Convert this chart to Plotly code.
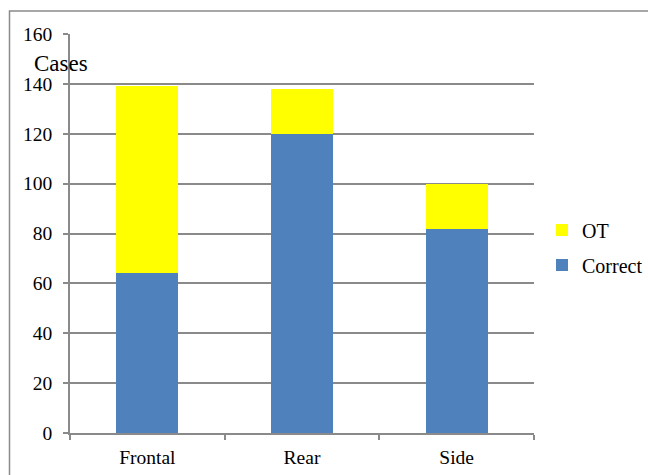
import plotly.graph_objects as go

categories = ["Frontal", "Rear", "Side"]
correct = [64, 120, 82]
ot = [75, 18, 18]

BLUE = "#4F81BD"
YELLOW = "#FFFF00"
GRAY = "#8a8a8a"
FONT = "Liberation Serif"

fig = go.Figure()
fig.add_trace(go.Bar(x=categories, y=correct, name="Correct", marker=dict(color=BLUE, line=dict(width=0)),
                     legendgroup="c", legendrank=2))
fig.add_trace(go.Bar(x=categories, y=ot, name="OT", marker=dict(color=YELLOW, line=dict(width=0)),
                     legendgroup="o", legendrank=1))

W, H = 648, 475
L, R, T, B = 70, 114, 34, 42
pw, ph = W - L - R, H - T - B

def px_x(p):
    return (p - L) / pw

def px_y(p):
    return (H - B - p) / ph

fig.update_layout(
    width=W, height=H,
    margin=dict(l=L, r=R, t=T, b=B, pad=0, autoexpand=False),
    paper_bgcolor="white", plot_bgcolor="white",
    barmode="stack", bargap=0.6,
    font=dict(family=FONT, size=19.5, color="black"),
    showlegend=True,
    legend=dict(traceorder="grouped", tracegroupgap=6,
                x=px_x(542), xanchor="left", y=px_y(247.5), yanchor="middle",
                font=dict(family=FONT, size=20, color="black"),
                bgcolor="rgba(0,0,0,0)"),
    xaxis=dict(type="category", showline=True, linecolor=GRAY, linewidth=1.5,
               ticks="outside", tickson="boundaries", ticklen=5, tickcolor=GRAY, tickwidth=1.5,
               showgrid=False, ticklabelstandoff=6,
               tickfont=dict(family=FONT, size=19.5, color="black")),
    yaxis=dict(range=[0, 160], dtick=20, showline=True, linecolor=GRAY, linewidth=1.5,
               ticks="outside", ticklen=5, tickcolor=GRAY, tickwidth=1.5,
               showgrid=True, gridcolor=GRAY, gridwidth=1.5, zeroline=False,
               ticklabelstandoff=7,
               tickfont=dict(family=FONT, size=19.5, color="black")),
    shapes=[dict(type="rect", xref="paper", yref="paper",
                 x0=px_x(9.5), x1=px_x(700), y0=px_y(520), y1=px_y(11),
                 line=dict(color=GRAY, width=1.5), fillcolor="rgba(0,0,0,0)", layer="below")],
    annotations=[dict(text="Cases", xref="paper", yref="paper", x=px_x(32), y=px_y(63),
                      xanchor="left", yanchor="middle", showarrow=False,
                      font=dict(family=FONT, size=23, color="black"))],
)

fig.write_html("out.html")
